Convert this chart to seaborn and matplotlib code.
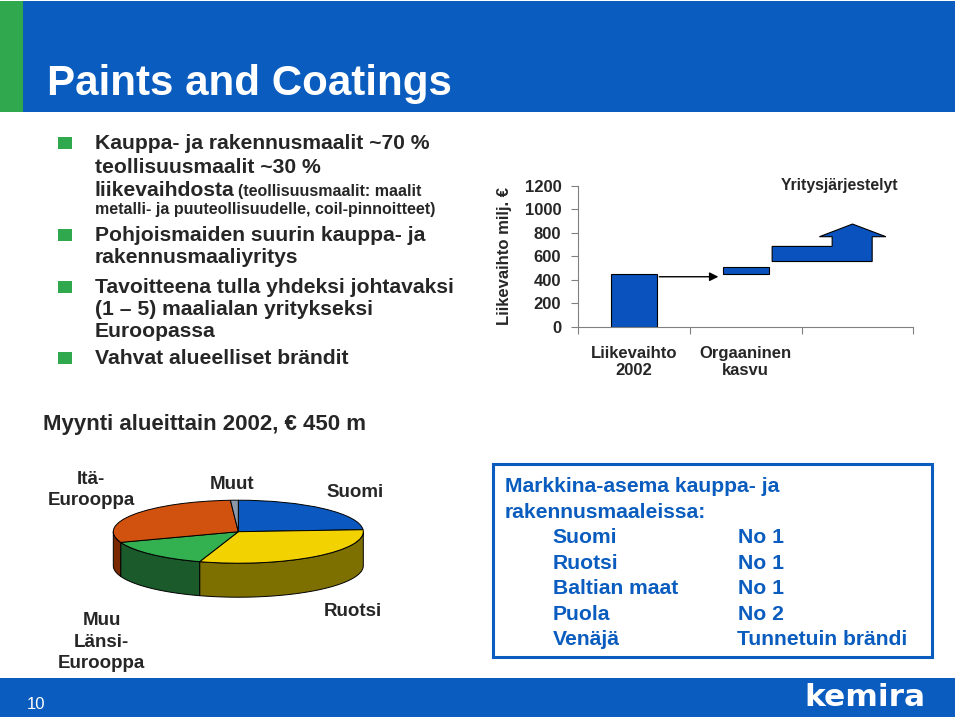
import numpy as np
import matplotlib
matplotlib.use("Agg")
import matplotlib.pyplot as plt
from matplotlib.patches import Rectangle, Polygon
import seaborn as sns
import pandas as pd

# ---------------- data ----------------
title = "Paints and Coatings"
bullet_lines = [
    "Kauppa- ja rakennusmaalit ~70 %",
    "teollisuusmaalit ~30 %",
    "liikevaihdosta",
    "",
    "Pohjoismaiden suurin kauppa- ja",
    "rakennusmaaliyritys",
    "Tavoitteena tulla yhdeksi johtavaksi",
    "(1 \u2013 5) maalialan yritykseksi",
    "Euroopassa",
    "Vahvat alueelliset brändit",
]
bullet_notes = ["(teollisuusmaalit: maalit",
                "metalli- ja puuteollisuudelle, coil-pinnoitteet)"]

bar_categories = ["Liikevaihto\n2002", "Orgaaninen\nkasvu", "Yritysjärjestelyt"]
sales_2002 = [450]
organic_growth = [450, 510]            # from, to
acquisitions = [555, 684, 767, 875]    # band bottom, band top, head base, tip
bar_yticks = [0, 200, 400, 600, 800, 1000, 1200]
bar_ylabel = "Liikevaihto milj. \u20ac"
transfer_level = 425

pie_title = "Myynti alueittain 2002, \u20ac 450 m"
regions = ["Suomi", "Ruotsi", "Muu\nLänsi-\nEurooppa", "Itä-\nEurooppa", "Muut"]
region_share = [24, 31, 14.5, 29.5, 1]

market_title = ["Markkina-asema kauppa- ja", "rakennusmaaleissa:"]
market_countries = ["Suomi", "Ruotsi", "Baltian maat", "Puola", "Venäjä"]
market_positions = ["No 1", "No 1", "No 1", "No 2", "Tunnetuin brändi"]
page_number = "10"
logo = "kemira"

# ---------------- style ----------------
sns.set_style("white")
plt.rcParams["font.family"] = ["Liberation Sans", "DejaVu Sans"]
plt.rcParams["font.weight"] = "bold"

BLUE = "#0A5CBE"
BAR = "#0A52BE"
GREEN = "#30A84E"
top_colors = ["#0A58C0", "#F2D200", "#33B050", "#D0520E", "#8A9AAA"]
side_colors = ["#05306A", "#7D7000", "#1B5A2A", "#7A2800", "#4A5560"]

W, H = 960, 720
fig = plt.figure(figsize=(9.6, 7.2), dpi=100)
fig.patch.set_facecolor("white")


def fx(x):
    return x / W


def fy(y):
    return 1 - y / H


def rect_px(x0, y0, x1, y1, **kw):
    r = Rectangle((fx(x0), fy(y1)), (x1 - x0) / W, (y1 - y0) / H,
                  transform=fig.transFigure, **kw)
    fig.add_artist(r)
    return r


# header / footer bands
rect_px(0, 1, 955, 112, facecolor=BLUE, edgecolor="none", zorder=0)
rect_px(0, 1, 23, 112, facecolor=GREEN, edgecolor="none", zorder=0)
rect_px(0, 678, 955, 717, facecolor=BLUE, edgecolor="none", zorder=0)
fig.text(fx(46.7), fy(95), title, color="white", fontsize=30.3,
         fontweight="bold", va="baseline", ha="left")
fig.text(fx(26.7), fy(709.3), page_number, color="white", fontsize=12,
         fontweight="normal", va="baseline", ha="left")
fig.text(fx(804), fy(706), logo, color="white", fontsize=22.5,
         family="DejaVu Sans", fontweight="bold", va="baseline", ha="left")

# bullets
baselines = [149.3, 172.7, 196, 214, 240.7, 263, 292.7, 315, 336.7, 364]
bullet_rows = [0, 4, 6, 9]
for i, (txt, yb) in enumerate(zip(bullet_lines, baselines)):
    if txt:
        fig.text(fx(95), fy(yb), txt, fontsize=15.2, va="baseline", ha="left")
    if i in bullet_rows:
        rect_px(58, yb - 12, 72, yb, facecolor=GREEN, edgecolor="none")
fig.text(fx(238), fy(baselines[2]), bullet_notes[0], fontsize=11.5,
         va="baseline", ha="left")
fig.text(fx(95), fy(baselines[3]), bullet_notes[1], fontsize=11.5,
         va="baseline", ha="left")

# ---------------- bar chart ----------------
ax = fig.add_axes([fx(578), fy(326.5), (913.3 - 578) / W, 140.5 / H])
df = pd.DataFrame({"cat": bar_categories[:1], "value": sales_2002})
sns.barplot(data=df, x="cat", y="value", ax=ax, color=BAR, saturation=1,
            width=0.41, edgecolor="black", linewidth=0.8)
ax.bar(1, organic_growth[1] - organic_growth[0], bottom=organic_growth[0],
       width=0.41, color=BAR, edgecolor="black", linewidth=0.8)
b0, b1, hb, tip = acquisitions
xl, xr, xs, hl, hr, xt = 1.237, 2.132, 1.774, 1.660, 2.255, 1.956
verts = [(xl, b0), (xr, b0), (xr, hb), (hr, hb), (xt, tip), (hl, hb),
         (xs, hb), (xs, b1), (xl, b1)]
ax.add_patch(Polygon(verts, closed=True, facecolor=BAR, edgecolor="black",
                     linewidth=0.8, clip_on=False))
ax.annotate("", xy=(0.756, transfer_level), xytext=(0.228, transfer_level),
            arrowprops=dict(arrowstyle="-|>", color="black", lw=1.0,
                            mutation_scale=13, shrinkA=0, shrinkB=0))
ax.set_xlim(-0.5, 2.5)
ax.set_ylim(0, 1200)
ax.set_yticks(bar_yticks)
ax.set_yticklabels([str(v) for v in bar_yticks], fontsize=12, fontweight="bold")
ax.set_xticks([-0.5, 0.5, 1.5, 2.5])
ax.set_xticklabels([])
ax.set_xticks([0, 1], minor=True)
ax.set_xticklabels(bar_categories[:2], minor=True, fontsize=12,
                   fontweight="bold", linespacing=1.15)
ax.tick_params(axis="x", which="minor", length=0, pad=14)
ax.tick_params(axis="both", which="major", direction="out", length=5,
               width=0.8, color="#808080", left=True, bottom=True, pad=7)
ax.set_xlabel("")
ax.set_ylabel(bar_ylabel, fontsize=12, fontweight="bold")
ax.yaxis.set_label_coords(-0.198, 0.5)
for s in ["top", "right"]:
    ax.spines[s].set_visible(False)
for s in ["left", "bottom"]:
    ax.spines[s].set_color("#808080")
    ax.spines[s].set_linewidth(0.8)
ax.set_facecolor("none")
ax.grid(False)
fig.text(fx(840), fy(190), bar_categories[2], fontsize=11.3, ha="center",
         va="baseline")

# ---------------- pie chart ----------------
fig.text(fx(42.7), fy(430), pie_title, fontsize=16, va="baseline", ha="left")
axp = fig.add_axes([fx(75.8), fy(604.15), 325 / W, 113.4 / H])
wedges, _ = axp.pie(region_share, colors=top_colors, startangle=90,
                    counterclock=False, radius=1,
                    wedgeprops=dict(edgecolor="black", linewidth=0.7))
depth = 1.08
for w, sc in zip(wedges, side_colors):
    w.set_zorder(3)
    a, b = w.theta1, w.theta2
    for k in (-360, 0, 360):
        lo, hi = max(a, 180 + k), min(b, 360 + k)
        if hi > lo:
            t = np.radians(np.linspace(lo, hi, 80))
            top = np.column_stack([np.cos(t), np.sin(t)])
            bot = np.column_stack([np.cos(t), np.sin(t) - depth])[::-1]
            axp.add_patch(Polygon(np.vstack([top, bot]), closed=True,
                                  facecolor=sc, edgecolor="black",
                                  linewidth=0.7, zorder=1))
axp.set_aspect("auto")
axp.set_xlim(-1.3, 1.3)
axp.set_ylim(-2.3, 1.3)
axp.axis("off")

# (x centre, baseline of the last line)
label_pos = [(355, 497), (352.7, 615.7), (101.7, 668), (91, 505), (231.7, 489)]
for name, (x, y) in zip(regions, label_pos):
    fig.text(fx(x), fy(y), name, fontsize=13.5, ha="center", va="baseline",
             linespacing=1.33)

# ---------------- market box ----------------
rect_px(492.7, 464, 931.7, 657, facecolor="none", edgecolor=BLUE,
        linewidth=2.2)
fig.text(fx(505), fy(491.7), market_title[0], fontsize=15.2, color=BLUE,
         va="baseline")
fig.text(fx(505), fy(518.3), market_title[1], fontsize=15.2, color=BLUE,
         va="baseline")
row_base = [543.3, 569.3, 594, 620, 645]
for c, p, yb in zip(market_countries, market_positions, row_base):
    fig.text(fx(552.7), fy(yb), c, fontsize=15.2, color=BLUE, va="baseline")
    xp = 736.7 if len(p) > 5 else 738.3
    fig.text(fx(xp), fy(yb), p, fontsize=15.2, color=BLUE, va="baseline")

fig.savefig("out.png", dpi=100, facecolor="white")
